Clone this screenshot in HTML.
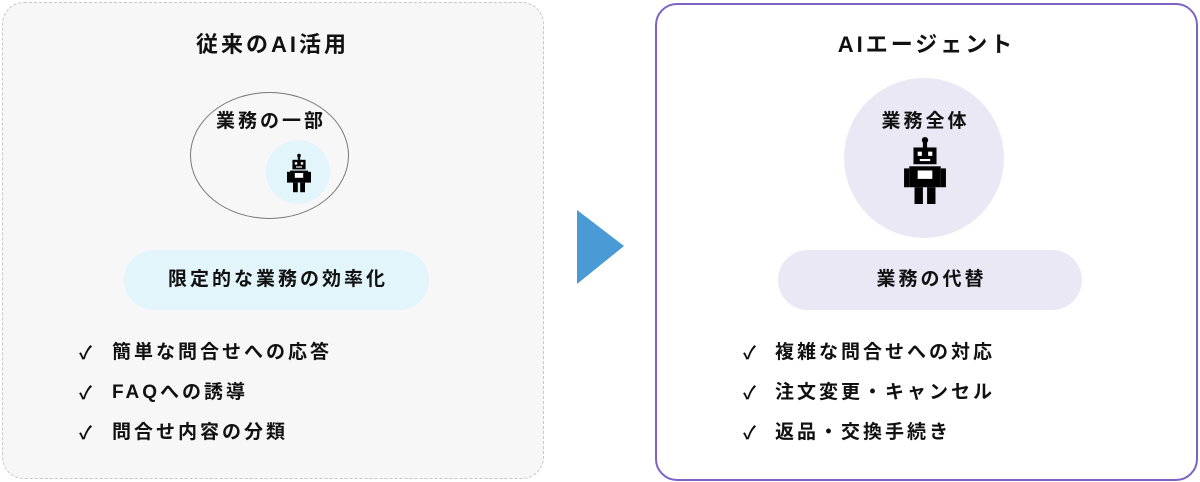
<!DOCTYPE html>
<html><head><meta charset="utf-8"><style>
body{margin:0;width:1200px;height:482px;background:#fff;font-family:"Liberation Sans","Noto Sans CJK JP",sans-serif;position:relative;overflow:hidden;color:#111}
.a{position:absolute}
.t{font-weight:bold;white-space:nowrap;letter-spacing:3px}
.l{font-size:19px;line-height:40px}
</style></head><body>
<div class="a" style="left:2px;top:2px;width:540px;height:475px;border:1.5px dashed #c8c8c8;border-radius:22px;background:#f7f7f7"></div>
<div class="a" style="left:655px;top:3px;width:539px;height:474px;border:2px solid #7e62c4;border-radius:22px;background:#fff"></div>
<div class="a t" style="left:0;width:545px;top:27px;text-align:center;font-size:22px">従来のAI活用</div>
<div class="a t" style="left:656px;width:541px;top:27px;text-align:center;font-size:22px">AIエージェント</div>
<div class="a" style="left:190px;top:92px;width:157px;height:125px;border:1.5px solid #777;border-radius:50%"></div>
<div class="a" style="left:266px;top:140px;width:64px;height:64px;border-radius:50%;background:#e1f5fb"></div>
<div class="a t" style="left:190px;width:162px;top:106px;text-align:center;font-size:19px">業務の一部</div>
<div class="a" style="left:844px;top:78px;width:160px;height:160px;border-radius:50%;background:#ebe8f5"></div>
<div class="a t" style="left:844px;width:163px;top:106px;text-align:center;font-size:19px">業務全体</div>
<svg class="a" style="left:287px;top:153px" width="24" height="40" viewBox="0 0 40 64"><g fill="#000"><circle cx="20" cy="3" r="3"/><rect x="18" y="4" width="4" height="6"/><rect x="9" y="10" width="22" height="16"/><rect x="5" y="28" width="30" height="20"/><rect x="0" y="30" width="5" height="18"/><rect x="35" y="30" width="5" height="18"/><rect x="10" y="48" width="8" height="16"/><rect x="22" y="48" width="8" height="16"/></g><g fill="#fff"><rect x="13" y="14" width="4" height="4"/><rect x="23" y="14" width="4" height="4"/><rect x="15" y="21" width="10" height="2"/><rect x="13" y="32" width="14" height="8"/></g></svg>
<svg class="a" style="left:904px;top:137px" width="42" height="67" viewBox="0 0 40 64"><g fill="#000"><circle cx="20" cy="3" r="3"/><rect x="18" y="4" width="4" height="6"/><rect x="9" y="10" width="22" height="16"/><rect x="5" y="28" width="30" height="20"/><rect x="0" y="30" width="5" height="18"/><rect x="35" y="30" width="5" height="18"/><rect x="10" y="48" width="8" height="16"/><rect x="22" y="48" width="8" height="16"/></g><g fill="#fff"><rect x="13" y="14" width="4" height="4"/><rect x="23" y="14" width="4" height="4"/><rect x="15" y="21" width="10" height="2"/><rect x="13" y="32" width="14" height="8"/></g></svg>
<div class="a t" style="left:124px;top:250px;width:305px;height:60px;border-radius:30px;background:#e2f5fa;text-align:center;line-height:60px;font-size:19px;text-indent:3px">限定的な業務の効率化</div>
<div class="a t" style="left:778px;top:250px;width:304px;height:60px;border-radius:30px;background:#ebe8f5;text-align:center;line-height:60px;font-size:19px;text-indent:3px">業務の代替</div>
<svg class="a" style="left:575px;top:209px" width="50" height="76"><polygon points="2,1 49,37 2,75" fill="#4a9ad6"/></svg>
<div class="a t l" style="left:79px;top:333px;font-size:18px">✓<br>✓<br>✓</div>
<div class="a t l" style="left:112px;top:333px">簡単な問合せへの応答<br>FAQへの誘導<br>問合せ内容の分類</div>
<div class="a t l" style="left:743px;top:333px;font-size:18px">✓<br>✓<br>✓</div>
<div class="a t l" style="left:775px;top:333px">複雑な問合せへの対応<br>注文変更・キャンセル<br>返品・交換手続き</div>
</body></html>
